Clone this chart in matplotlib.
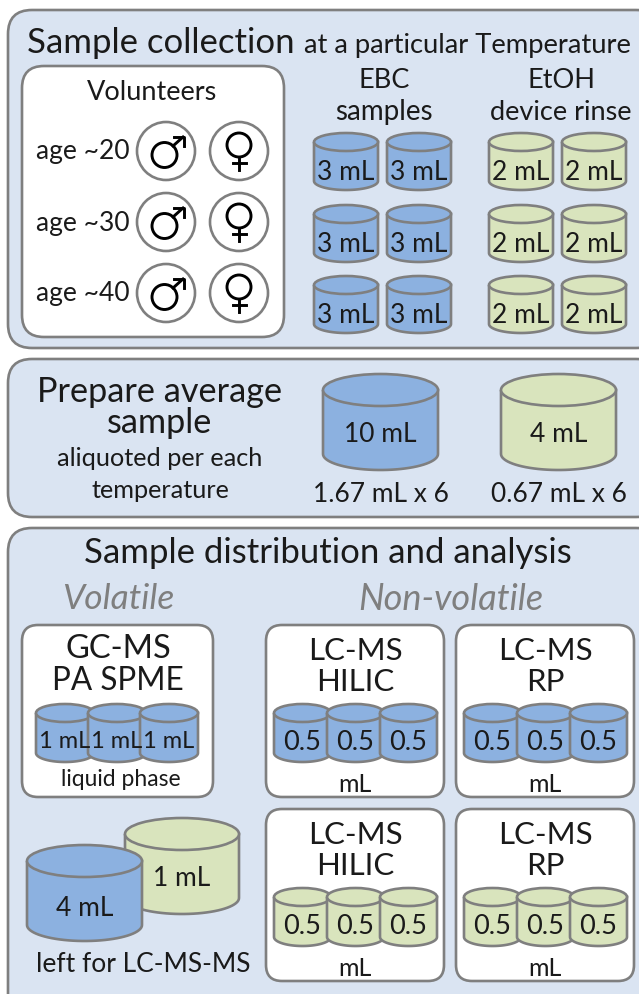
import matplotlib
matplotlib.use("Agg")
import matplotlib.pyplot as plt
from matplotlib.patches import FancyBboxPatch, Ellipse, Circle, PathPatch
from matplotlib.path import Path
import numpy as np

plt.rcParams['font.family'] = ['Lato', 'DejaVu Sans']

BLUE = '#8cb1e0'
GREEN = '#d9e4bd'
PANEL = '#dae4f2'
EDGE = '#7f7f7f'
TXT = '#1a1a1a'

ages = ['age ~20', 'age ~30', 'age ~40']
age_rows = [151, 222, 293]
ebc_rows = [133, 205, 276]
ebc_label = '3 mL'
rinse_label = '2 mL'
hilic_label = '0.5'
spme_label = '1 mL'

fig = plt.figure(figsize=(6.39, 9.94), dpi=100)
ax = fig.add_axes([0, 0, 1, 1])
ax.set_xlim(0, 639)
ax.set_ylim(994, 0)
ax.axis('off')


def box(x0, y0, x1, y1, r, fc, z=1, lw=1.9):
    p = FancyBboxPatch((x0 + r, y0 + r), x1 - x0 - 2 * r, y1 - y0 - 2 * r,
                       boxstyle="round,pad=%f,rounding_size=%f" % (r, r),
                       fc=fc, ec=EDGE, lw=lw, zorder=z)
    ax.add_patch(p)


def cylinder(x0, y0, w, h, eh, fc, label=None, size=19, z=3, dy=0):
    # body first, then the lid ellipse on top
    t = np.linspace(np.pi, 0, 40)
    xs = x0 + w / 2 + w / 2 * np.cos(t)
    bot = y0 + h - eh / 2 + eh / 2 * np.sin(t)
    verts = [(x0, y0 + eh / 2)] + list(zip(xs, bot)) + [(x0 + w, y0 + eh / 2), (x0, y0 + eh / 2)]
    ax.add_patch(PathPatch(Path(verts), fc=fc, ec=EDGE, lw=1.9, zorder=z))
    ax.add_patch(Ellipse((x0 + w / 2, y0 + eh / 2), w, eh, fc=fc, ec=EDGE, lw=1.9, zorder=z))
    if label:
        ax.text(x0 + w / 2, y0 + eh + (h - eh) / 2 - 2 + dy, label, ha='center', va='center',
                fontsize=size, color=TXT, zorder=z + 1)


def text(x, y, s, size, **kw):
    kw.setdefault('ha', 'center')
    kw.setdefault('va', 'center')
    kw.setdefault('color', TXT)
    ax.text(x, y + 2, s, fontsize=size, **kw)


def mars(cx, cy):
    ax.add_patch(Circle((cx, cy), 29, fc='white', ec=EDGE, lw=1.9, zorder=3))
    ax.add_patch(Circle((cx - 1.5, cy + 4), 12.5, fc='none', ec='black', lw=2.1, zorder=4))
    ax.plot([cx + 7, cx + 17], [cy - 5, cy - 14], color='black', lw=2.1, zorder=4)
    ax.plot([cx + 8, cx + 18, cx + 18], [cy - 14, cy - 14, cy - 5], color='black', lw=2.1, zorder=4)


def venus(cx, cy):
    ax.add_patch(Circle((cx, cy), 29, fc='white', ec=EDGE, lw=1.9, zorder=3))
    ax.add_patch(Circle((cx, cy - 6), 12, fc='none', ec='black', lw=2.1, zorder=4))
    ax.plot([cx, cx], [cy + 6, cy + 19], color='black', lw=2.1, zorder=4)
    ax.plot([cx - 6.5, cx + 6.5], [cy + 12, cy + 12], color='black', lw=2.1, zorder=4)


# top panel
box(8, 10, 660, 348, 24, PANEL)
ax.text(27, 43, 'Sample collection', fontsize=25, color=TXT, va='center', ha='left')
ax.text(304, 45, 'at a particular Temperature', fontsize=19.7, color=TXT, va='center', ha='left')
box(22, 66, 284, 337, 22, 'white', z=2)
text(152, 91, 'Volunteers', 19.5, zorder=4)
for name, y in zip(ages, age_rows):
    text(83, y - 1, name, 19, zorder=4)
    mars(166, y)
    venus(239, y)
text(384, 79, 'EBC', 19.5)
text(384, 110, 'samples', 20)
text(561, 79, 'EtOH', 19.5)
text(561, 110, 'device rinse', 19.5)
for y in ebc_rows:
    for x in [314, 387]:
        cylinder(x, y, 64, 57, 18, BLUE, ebc_label, 19, dy=4)
    for x in [489, 562]:
        cylinder(x, y, 64, 57, 18, GREEN, rinse_label, 19, dy=4)

# middle panel
box(8, 359, 660, 517, 24, PANEL)
text(160, 390, 'Prepare average', 24.7)
text(160, 421, 'sample', 24.7)
text(160, 457, 'aliquoted per each', 18.2)
text(160, 488, 'temperature', 18.2)
cylinder(323, 374, 115, 96, 32, BLUE, '10 mL', 19, dy=-2)
cylinder(501, 374, 115, 96, 32, GREEN, '4 mL', 19, dy=-2)
text(381, 492, '1.67 mL x 6', 19)
text(559, 492, '0.67 mL x 6', 19)

# bottom panel
box(8, 528, 660, 1020, 24, PANEL)
text(328, 551, 'Sample distribution and analysis', 25)
text(118, 597, 'Volatile', 25.5, style='italic', color='#7f7f7f')
text(451, 597, 'Non-volatile', 26, style='italic', color='#7f7f7f')

box(22, 625, 213, 797, 16, 'white', z=2)
text(118, 647, 'GC-MS', 23.5, zorder=4)
text(118, 679, 'PA SPME', 22.7, zorder=4)
for x in [36, 88, 140]:
    cylinder(x, 704, 58, 58, 18, BLUE, spme_label, 17, dy=2)
text(121, 777, 'liquid phase', 16.5, zorder=4)

cylinder(125, 818, 114, 96, 32, GREEN, '1 mL', 19, z=3, dy=-1)
cylinder(27, 845, 115, 96, 32, BLUE, '4 mL', 19, z=5, dy=1)
text(143, 962, 'left for LC-MS-MS', 19)

for (x0, x1, y0, y1, l1, l2, fc) in [
        (266, 444, 625, 797, 'LC-MS', 'HILIC', BLUE),
        (456, 634, 625, 797, 'LC-MS', 'RP', BLUE),
        (266, 444, 809, 981, 'LC-MS', 'HILIC', GREEN),
        (456, 634, 809, 981, 'LC-MS', 'RP', GREEN)]:
    box(x0, y0, x1, y1, 16, 'white', z=2)
    cx = (x0 + x1) / 2
    text(cx, y0 + 24, l1, 22.5, zorder=4)
    text(cx, y0 + 55, l2, 22.5, zorder=4)
    for k in range(3):
        cylinder(x0 + 8 + 53 * k, y0 + 79, 57, 58, 18, fc, hilic_label, 19.5, z=3 + 2 * k, dy=2)
    text(cx, y0 + 157, 'mL', 18, zorder=9)

fig.savefig('out.png', dpi=100)
